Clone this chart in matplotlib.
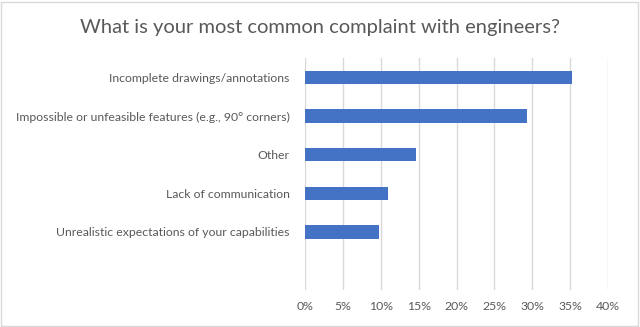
import matplotlib.pyplot as plt
from matplotlib.patches import Rectangle
from matplotlib.ticker import PercentFormatter

plt.rcParams["font.family"] = ["Lato", "DejaVu Sans"]

complaints = [
    "Incomplete drawings/annotations",
    "Impossible or unfeasible features (e.g., 90° corners)",
    "Other",
    "Lack of communication",
    "Unrealistic expectations of your capabilities",
]
share = [35.3, 29.3, 14.7, 11.0, 9.8]
x_ticks = [0, 5, 10, 15, 20, 25, 30, 35, 40]

grey = "#595959"

fig = plt.figure(figsize=(6.4, 3.27), dpi=100)
ax = fig.add_axes([305 / 640, 37 / 327, 303 / 640, 232 / 327])

pos = list(range(len(complaints)))
ax.barh(pos, share, height=0.34, color="#4472c4", zorder=3)

ax.set_xlim(0, 40)
ax.set_ylim(len(complaints) + 0.5, -0.5)
ax.set_xticks(x_ticks)
ax.xaxis.set_major_formatter(PercentFormatter(decimals=0))
ax.set_yticks(pos)
ax.set_yticklabels(complaints)
ax.tick_params(axis="both", length=0, colors=grey, labelsize=8.8)
ax.tick_params(axis="x", pad=8)
ax.tick_params(axis="y", pad=11)
ax.grid(axis="x", color="#d9d9d9", linewidth=1, zorder=0)
for s in ax.spines.values():
    s.set_visible(False)

fig.text(0.5, 1 - 28 / 327, "What is your most common complaint with engineers?",
         ha="center", va="center", fontsize=14.5, color=grey)

# light frame around the chart area
fig.patches.append(Rectangle((0.002, 0.003), 0.995, 0.992, transform=fig.transFigure,
                             fill=False, edgecolor="#d9d9d9", linewidth=1))

fig.savefig("out.png", dpi=100)
